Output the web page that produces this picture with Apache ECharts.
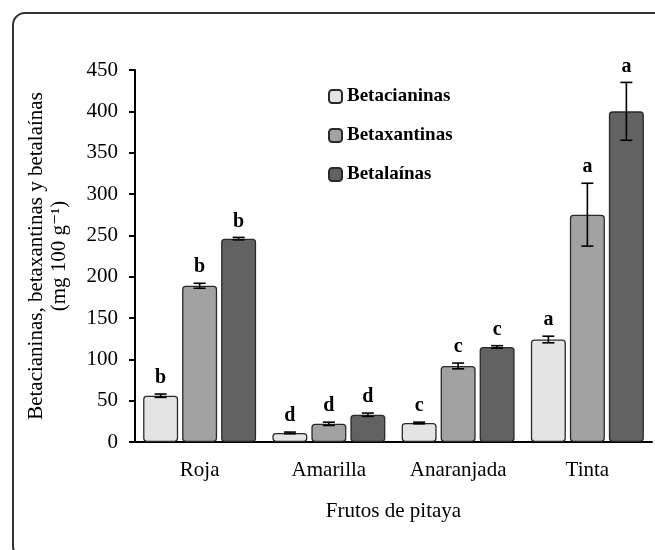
<!DOCTYPE html>
<html>
<head>
<meta charset="utf-8">
<script src="https://cdn.jsdelivr.net/npm/echarts@6/dist/echarts.min.js"></script>
<style>
  html, body { margin: 0; padding: 0; background: #fff; }
</style>
</head>
<body>
<div id="chart" style="width: 655px; height: 550px;"></div>
<script>
// data
const categories = ['Roja', 'Amarilla', 'Anaranjada', 'Tinta'];
const seriesNames = ['Betacianinas', 'Betaxantinas', 'Betalaínas'];

const betacianinas = [56, 11, 23, 124];
const betaxantinas = [189, 22, 92, 275];
const betalainas = [246, 33, 115, 400];

const errBetacianinas = [2, 1, 1, 4];
const errBetaxantinas = [3, 2, 3.5, 38];
const errBetalainas = [1.5, 2, 1.5, 35];

const lettersBetacianinas = ['b', 'd', 'c', 'a'];
const lettersBetaxantinas = ['b', 'd', 'c', 'a'];
const lettersBetalainas = ['b', 'd', 'c', 'a'];

const yTicks = [0, 50, 100, 150, 200, 250, 300, 350, 400, 450];

const colors = ['#e4e4e4', '#a2a2a2', '#626262'];
const BAR_W = 35;
const BAR_GAP = 4;
const FONT = '"Liberation Serif", "DejaVu Serif", serif';

const means = [betacianinas, betaxantinas, betalainas];
const errs = [errBetacianinas, errBetaxantinas, errBetalainas];
const letters = [lettersBetacianinas, lettersBetaxantinas, lettersBetalainas];

// flat rows for the error bar series: [category, series, mean, err]
const errRows = [];
const errLetters = [];
means.forEach((arr, s) => {
  arr.forEach((v, c) => {
    errRows.push([c, s, v, errs[s][c]]);
    errLetters.push(letters[s][c]);
  });
});

const chart = echarts.init(document.getElementById('chart'));

const barSeries = seriesNames.map((name, i) => ({
  name: name,
  type: 'bar',
  data: means[i],
  barWidth: BAR_W,
  barGap: (BAR_GAP / BAR_W * 100).toFixed(1) + '%',
  itemStyle: {
    color: colors[i],
    borderColor: '#2a2a2a',
    borderWidth: 1.3,
    borderRadius: 3
  },
  emphasis: { disabled: true }
}));

const errorSeries = {
  type: 'custom',
  data: errRows,
  z: 10,
  silent: true,
  renderItem: function (params, api) {
    const c = api.value(0);
    const s = api.value(1);
    const m = api.value(2);
    const e = api.value(3);
    const hi = api.coord([c, m + e]);
    const lo = api.coord([c, m - e]);
    const x = hi[0] + (s - 1) * (BAR_W + BAR_GAP);
    const cap = 6;
    const line = { stroke: '#000', lineWidth: 1.6 };
    return {
      type: 'group',
      children: [
        { type: 'line', shape: { x1: x, y1: hi[1], x2: x, y2: lo[1] }, style: line },
        { type: 'line', shape: { x1: x - cap, y1: hi[1], x2: x + cap, y2: hi[1] }, style: line },
        { type: 'line', shape: { x1: x - cap, y1: lo[1], x2: x + cap, y2: lo[1] }, style: line },
        {
          type: 'text',
          style: {
            text: errLetters[params.dataIndex],
            x: x,
            y: hi[1] - 6,
            align: 'center',
            verticalAlign: 'bottom',
            font: 'bold 20px ' + FONT,
            fill: '#000'
          }
        }
      ]
    };
  }
};

const option = {
  animation: false,
  backgroundColor: '#fff',
  textStyle: { fontFamily: FONT },
  graphic: [
    {
      type: 'rect',
      z: -10,
      shape: { x: 13, y: 13, width: 700, height: 545, r: 12 },
      style: { fill: 'none', stroke: '#333', lineWidth: 2 }
    }
  ],
  legend: {
    orient: 'vertical',
    left: 323,
    top: 82,
    itemWidth: 13,
    itemHeight: 13,
    itemGap: 20,
    icon: 'roundRect',
    data: seriesNames,
    textStyle: { fontFamily: FONT, fontSize: 19, fontWeight: 'bold', color: '#000' }
  },
  grid: { left: 135, right: 3, top: 70, bottom: 108, outerBoundsMode: 'none' },
  xAxis: {
    type: 'category',
    data: categories,
    name: 'Frutos de pitaya',
    nameLocation: 'middle',
    nameGap: 59,
    nameTextStyle: { fontFamily: FONT, fontSize: 21, color: '#000' },
    axisLine: { lineStyle: { color: '#000', width: 2 } },
    axisTick: { length: 6, lineStyle: { color: '#000', width: 2 } },
    axisLabel: { fontFamily: FONT, fontSize: 21, color: '#000', margin: 18 }
  },
  yAxis: {
    type: 'value',
    min: yTicks[0],
    max: yTicks[yTicks.length - 1],
    interval: yTicks[1] - yTicks[0],
    name: 'Betacianinas, betaxantinas y betalaínas\n(mg 100 g⁻¹)',
    nameLocation: 'middle',
    nameRotate: 90,
    nameGap: 64,
    nameTextStyle: { fontFamily: FONT, fontSize: 21, color: '#000', lineHeight: 23 },
    axisLine: { show: true, lineStyle: { color: '#000', width: 2 } },
    axisTick: { show: true, length: 6, lineStyle: { color: '#000', width: 2 } },
    splitLine: { show: false },
    axisLabel: { fontFamily: FONT, fontSize: 21, color: '#000', margin: 17 }
  },
  series: barSeries.concat([errorSeries])
};

chart.setOption(option);
</script>
</body>
</html>
